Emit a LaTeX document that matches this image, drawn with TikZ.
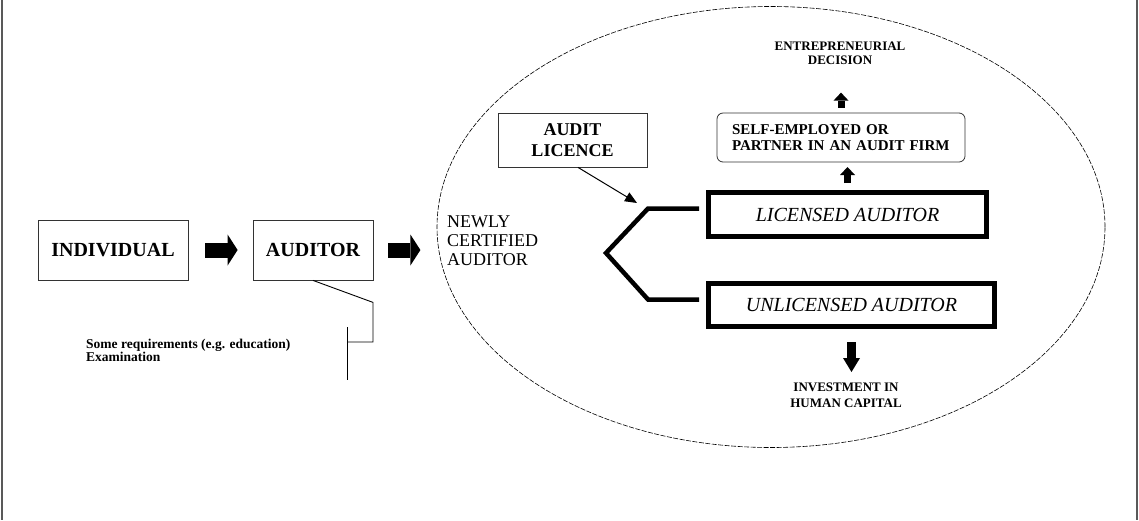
\documentclass[tikz,border=0pt]{standalone}
\usepackage{fontspec}
\setmainfont{Liberation Serif}
\usetikzlibrary{shapes.geometric, arrows.meta, positioning}
\tikzstyle{plainbox} = [rectangle, draw=black!80, line width=0.8pt, inner sep=0pt, text centered, font=\fontsize{20}{24}\selectfont\bfseries]
\tikzstyle{thickbox} = [rectangle, draw=black, line width=5pt, inner sep=0pt, text centered, font=\fontsize{20}{24}\selectfont\itshape]
\tikzstyle{roundbox} = [rectangle, rounded corners=6pt, draw=black!80, line width=0.8pt, inner xsep=15pt, text width=218pt, align=left, minimum height=49pt, font=\fontsize{15}{16}\selectfont\bfseries]
\tikzstyle{smalltext} = [inner sep=0pt, align=center, font=\fontsize{13}{15.5}\selectfont\bfseries]
\tikzstyle{bigarrow} = [line width=15pt, -{Triangle[length=10pt, width=31pt, line width=0pt]}]
\tikzstyle{midarrow} = [line width=9pt, -{Triangle[length=14pt, width=17pt, line width=0pt]}]
\tikzstyle{tinyarrow} = [line width=7pt, -{Triangle[length=8pt, width=15pt, line width=0pt]}]
\tikzstyle{arrow} = [line width=1pt, -{Triangle[length=12pt, width=10pt]}]

\begin{document}
\begin{tikzpicture}[x=1pt, y=-1pt]
      \useasboundingbox (0,0) rectangle (1139,520);

      % Frame
      \draw [black!65, line width=1.3pt] (2,0) -- (2,520);
      \draw [black!65, line width=1.3pt] (1137,0) -- (1137,520);

      % Nodes
      \node (indiv) [plainbox, minimum width=150pt, minimum height=60pt] at (113,250) {INDIVIDUAL};
      \node (auditor) [plainbox, minimum width=120pt, minimum height=60pt] at (313,250) {AUDITOR};
      \node (req) [anchor=west, inner sep=0pt, align=left, font=\fontsize{13.5}{13}\selectfont\bfseries] at (86,350.5) {Some requirements (e.g. education)\\Examination};

      \node (cert) [ellipse, draw=black, line width=0.6pt, dash pattern=on 5pt off 1.5pt, minimum width=668pt, minimum height=441pt, inner sep=0pt] at (771,227) {};
      \node (newly) [anchor=west, inner sep=0pt, align=left, font=\fontsize{18}{19}\selectfont] at (447,241) {NEWLY\\CERTIFIED\\AUDITOR};

      \node (licence) [plainbox, minimum width=149pt, minimum height=54pt, font=\fontsize{18}{21}\selectfont\bfseries, align=center] at (572.5,140) {AUDIT\\LICENCE};
      \node (selfemp) [roundbox] at (841,137.5) {SELF-EMPLOYED OR\\PARTNER IN AN AUDIT FIRM};
      \node (decision) [smalltext, font=\fontsize{13}{14}\selectfont\bfseries] at (840,53) {ENTREPRENEURIAL\\DECISION};

      \node (licensed) [thickbox, minimum width=278pt, minimum height=44pt] at (847.5,214.5) {LICENSED AUDITOR};
      \node (unlicensed) [thickbox, minimum width=286pt, minimum height=43pt] at (851.5,305) {UNLICENSED AUDITOR};
      \node (invest) [smalltext] at (846,395) {INVESTMENT IN\\HUMAN CAPITAL};

      \coordinate (fork) at (606,253);
      \coordinate (forkin) at (637,203);
      \coordinate (brace) at (347,342);

      % Arrows
      \draw [bigarrow] ([xshift=17pt]indiv.east) -- ([xshift=-15pt]auditor.west);
      \draw [bigarrow] ([xshift=15pt]auditor.east) -- ++(32,0);
      \draw [arrow] ([xshift=5.5pt]licence.south) -- (forkin);
      \draw [line width=4.5pt] ([xshift=-7pt,yshift=6pt]licensed.west) -- ++(-51,0) -- (fork) -- ++(42,46.5) -- ([xshift=-7pt,yshift=5.5pt]unlicensed.west);
      \draw [tinyarrow] ([yshift=7pt]licensed.north) -- ++(0,-16);
      \draw [tinyarrow] ([yshift=5pt]selfemp.north) -- ++(0,-15);
      \draw [midarrow] ([yshift=-13pt]unlicensed.south) -- ++(0,30);
      \draw [line width=0.9pt] (auditor.south) -- ++(60,22) |- (brace);
      \draw [line width=0.9pt] ([yshift=15pt]brace) -- ([yshift=-38pt]brace);

\end{tikzpicture}
\end{document}
